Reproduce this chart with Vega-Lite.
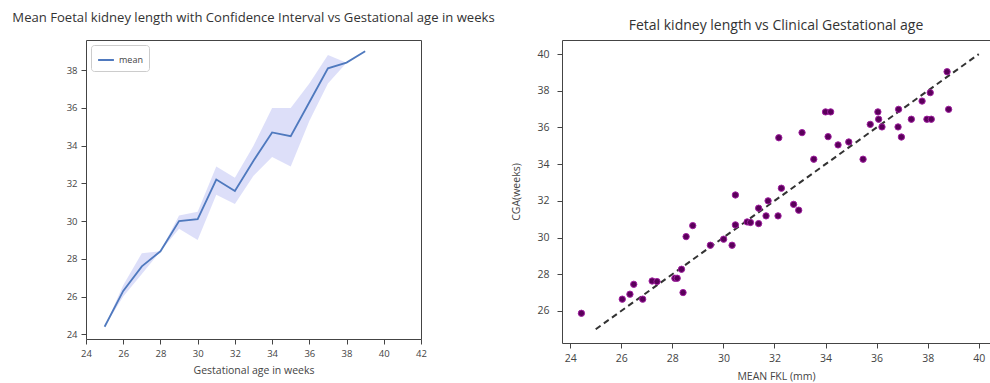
{
  "$schema": "https://vega.github.io/schema/vega-lite/v6.json",
  "padding": {"left": 11, "top": 11, "right": 0, "bottom": 0},
  "bounds": "flush",
  "spacing": 141,
  "background": "white",
  "config": {
    "view": {"stroke": "#444", "strokeWidth": 1},
    "font": "Open Sans",
    "axis": {"grid": false, "domain": false, "tickColor": "#444", "tickSize": 5, "labelColor": "#444", "labelFontSize": 10, "titleColor": "#444", "titleFontWeight": "normal", "titleFontSize": 10.5, "labelPadding": 4, "titlePadding": 4, "labelOverlap": false, "labelBound": false},
    "title": {"fontWeight": "normal", "color": "#333"}
  },
  "hconcat": [
    {
      "width": 335,
      "height": 299,
      "title": {"text": "Mean Foetal kidney length with Confidence Interval vs Gestational age in weeks", "fontSize": 13.1, "offset": 15, "font": "Open Sans"},
      "data": {"values": [
        {"week": 25, "mean": 24.4, "lo": 24.4, "hi": 24.4, "series": "mean"},
        {"week": 26, "mean": 26.3, "lo": 26.0, "hi": 26.6, "series": "mean"},
        {"week": 27, "mean": 27.6, "lo": 27.2, "hi": 28.3, "series": "mean"},
        {"week": 28, "mean": 28.4, "lo": 28.4, "hi": 28.4, "series": "mean"},
        {"week": 29, "mean": 30.0, "lo": 29.6, "hi": 30.3, "series": "mean"},
        {"week": 30, "mean": 30.1, "lo": 29.0, "hi": 30.5, "series": "mean"},
        {"week": 31, "mean": 32.2, "lo": 31.4, "hi": 32.9, "series": "mean"},
        {"week": 32, "mean": 31.6, "lo": 30.9, "hi": 32.3, "series": "mean"},
        {"week": 33, "mean": 33.2, "lo": 32.4, "hi": 34.0, "series": "mean"},
        {"week": 34, "mean": 34.7, "lo": 33.4, "hi": 36.0, "series": "mean"},
        {"week": 35, "mean": 34.5, "lo": 32.9, "hi": 36.0, "series": "mean"},
        {"week": 36, "mean": 36.3, "lo": 35.3, "hi": 37.3, "series": "mean"},
        {"week": 37, "mean": 38.1, "lo": 37.3, "hi": 38.8, "series": "mean"},
        {"week": 38, "mean": 38.4, "lo": 38.4, "hi": 38.4, "series": "mean"},
        {"week": 39, "mean": 39.0, "lo": 39.0, "hi": 39.0, "series": "mean"}
      ]},
      "encoding": {
        "x": {"field": "week", "type": "quantitative", "scale": {"domain": [24, 42], "nice": false, "zero": false}, "axis": {"values": [24, 26, 28, 30, 32, 34, 36, 38, 40, 42], "title": "Gestational age in weeks", "titlePadding": 8, "labelFontSize": 9.5, "labelOverlap": false, "labelBound": false, "labelFlush": false}}
      },
      "layer": [
        {
          "mark": {"type": "area", "color": "#d9dcf8", "opacity": 0.9},
          "encoding": {
            "y": {"field": "lo", "type": "quantitative", "scale": {"domain": [23.75, 39.6], "nice": false, "zero": false}, "axis": {"values": [24, 26, 28, 30, 32, 34, 36, 38], "title": null, "labelFontSize": 9.5, "labelOverlap": false}},
            "y2": {"field": "hi"}
          }
        },
        {
          "mark": {"type": "line", "strokeWidth": 1.8},
          "encoding": {
            "y": {"field": "mean", "type": "quantitative"},
            "color": {"field": "series", "type": "nominal", "scale": {"range": ["#4f79be"]}, "legend": {"orient": "top-left", "title": null, "symbolType": "stroke", "symbolStrokeWidth": 2, "symbolSize": 250, "strokeColor": "#ccc", "padding": 6, "cornerRadius": 3, "labelFontSize": 9, "labelColor": "#444", "offset": 5, "fillColor": "white"}}
          }
        }
      ]
    },
    {
      "width": 428,
      "height": 303,
      "title": {"text": "Fetal kidney length vs Clinical Gestational age", "fontSize": 14, "offset": 7, "font": "Open Sans"},
      "layer": [
        {
          "data": {"values": [{"fkl": 25, "cga": 25}, {"fkl": 40, "cga": 40}]},
          "mark": {"type": "line", "color": "#333", "strokeDash": [6, 4], "strokeWidth": 2},
          "encoding": {
            "x": {"field": "fkl", "type": "quantitative", "scale": {"domain": [23.68, 40.44], "nice": false, "zero": false}, "axis": {"values": [24, 26, 28, 30, 32, 34, 36, 38, 40], "title": "MEAN FKL (mm)", "labelFontSize": 10.5, "labelPadding": 5, "titlePadding": 8, "labelOverlap": false}},
            "y": {"field": "cga", "type": "quantitative", "scale": {"domain": [24.25, 40.77], "nice": false, "zero": false}, "axis": {"values": [26, 28, 30, 32, 34, 36, 38, 40], "title": "CGA(weeks)", "labelFontSize": 10.5, "labelPadding": 8, "titlePadding": 15, "labelOverlap": false}}
          }
        },
        {
          "data": {"values": [
            {"fkl": 24.44, "cga": 25.87}, {"fkl": 26.04, "cga": 26.64}, {"fkl": 26.34, "cga": 26.91}, {"fkl": 26.49, "cga": 27.45},
            {"fkl": 26.84, "cga": 26.64}, {"fkl": 27.21, "cga": 27.63}, {"fkl": 27.4, "cga": 27.6}, {"fkl": 28.1, "cga": 27.78},
            {"fkl": 28.19, "cga": 27.78}, {"fkl": 28.42, "cga": 27.0}, {"fkl": 28.36, "cga": 28.27}, {"fkl": 28.54, "cga": 30.05},
            {"fkl": 28.8, "cga": 30.65}, {"fkl": 29.49, "cga": 29.58}, {"fkl": 30.01, "cga": 29.91}, {"fkl": 30.34, "cga": 29.58},
            {"fkl": 30.47, "cga": 30.69}, {"fkl": 30.47, "cga": 32.32}, {"fkl": 30.93, "cga": 30.85}, {"fkl": 31.06, "cga": 30.82},
            {"fkl": 31.38, "cga": 30.76}, {"fkl": 31.38, "cga": 31.6}, {"fkl": 31.67, "cga": 31.18}, {"fkl": 31.75, "cga": 32.0},
            {"fkl": 32.14, "cga": 31.18}, {"fkl": 32.27, "cga": 32.69}, {"fkl": 32.75, "cga": 31.81}, {"fkl": 32.95, "cga": 31.49},
            {"fkl": 32.17, "cga": 35.44}, {"fkl": 33.08, "cga": 35.72}, {"fkl": 33.54, "cga": 34.27}, {"fkl": 34.0, "cga": 36.85},
            {"fkl": 34.2, "cga": 36.85}, {"fkl": 34.1, "cga": 35.5}, {"fkl": 34.49, "cga": 35.05}, {"fkl": 34.91, "cga": 35.21},
            {"fkl": 35.47, "cga": 34.27}, {"fkl": 35.75, "cga": 36.17}, {"fkl": 36.05, "cga": 36.85}, {"fkl": 36.08, "cga": 36.45},
            {"fkl": 36.21, "cga": 36.03}, {"fkl": 36.86, "cga": 36.99}, {"fkl": 36.84, "cga": 36.03}, {"fkl": 36.97, "cga": 35.48},
            {"fkl": 37.36, "cga": 36.45}, {"fkl": 37.78, "cga": 37.44}, {"fkl": 38.1, "cga": 37.9}, {"fkl": 37.97, "cga": 36.45},
            {"fkl": 38.14, "cga": 36.45}, {"fkl": 38.82, "cga": 36.99}, {"fkl": 38.76, "cga": 39.04}
          ]},
          "mark": {"type": "circle", "size": 40, "fill": "#5a005a", "stroke": "#a020a0", "strokeWidth": 1, "opacity": 1},
          "encoding": {
            "x": {"field": "fkl", "type": "quantitative"},
            "y": {"field": "cga", "type": "quantitative"}
          }
        }
      ]
    }
  ]
}
